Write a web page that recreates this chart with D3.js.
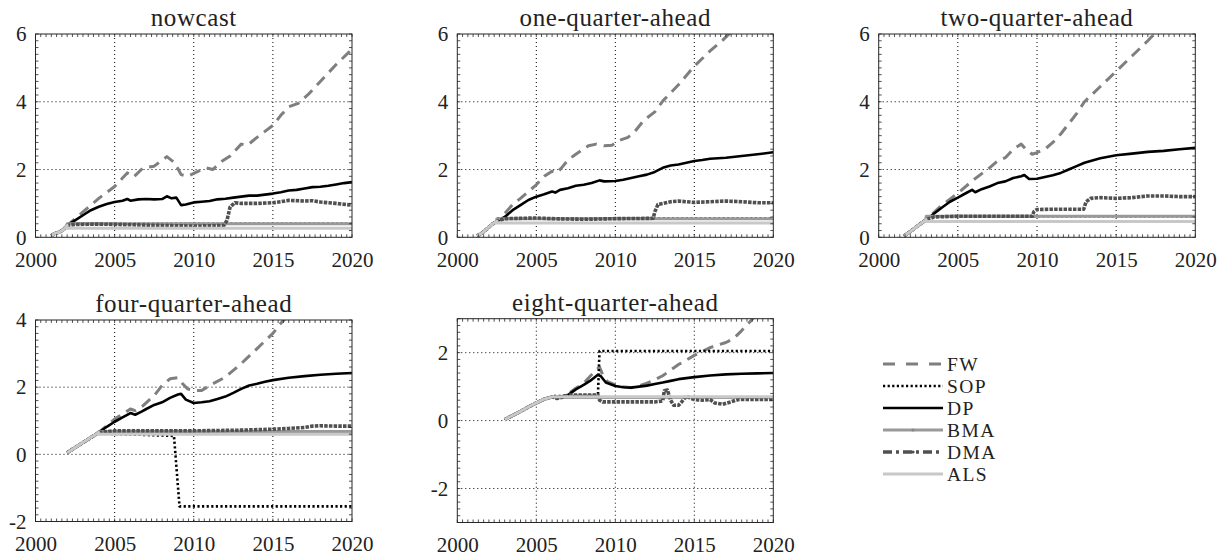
<!DOCTYPE html>
<html>
<head>
<meta charset="utf-8">
<script src="https://cdn.jsdelivr.net/npm/d3@7"></script>
<style>
  body { margin: 0; background: #fff; }
  svg text { font-family: "Liberation Serif", "DejaVu Serif", serif; fill: #222; }
</style>
</head>
<body>
<svg id="chart" width="1228" height="556"></svg>
<script>
// series names, in drawing order
var seriesNames = ["FW", "SOP", "DP", "BMA", "DMA", "ALS"];
var xTicks = [2000, 2005, 2010, 2015, 2020];

// ---- nowcast ----
var nowStart = [[2001.0,0.05],[2001.25,0.12],[2001.5,0.15],[2001.75,0.22],[2002.0,0.35]];
var nowFW = [[2002.25,0.45],[2003,0.75],[2004,1.15],[2005,1.5],[2005.5,1.75],[2005.8,1.9],[2006.2,1.78],[2006.8,2.05],[2007.5,2.1],[2008.3,2.38],[2008.8,2.2],[2009.2,1.85],[2009.6,1.8],[2010.3,1.95],[2010.8,2.05],[2011.2,2.0],[2011.8,2.25],[2012.3,2.4],[2013,2.75],[2013.4,2.72],[2014,2.95],[2015,3.3],[2015.5,3.6],[2016,3.85],[2016.6,3.95],[2017.2,4.2],[2018,4.6],[2019,5.1],[2020,5.55]];
var nowSOP = [[2002,0.4],[2020,0.4]];
var nowDP = [[2002.5,0.5],[2003,0.65],[2003.5,0.8],[2004,0.9],[2004.5,0.98],[2005,1.04],[2005.5,1.08],[2005.8,1.13],[2006,1.08],[2006.5,1.12],[2007,1.13],[2007.5,1.12],[2008,1.13],[2008.3,1.21],[2008.6,1.15],[2008.9,1.17],[2009.2,0.95],[2009.5,0.97],[2010,1.03],[2010.5,1.05],[2011,1.07],[2011.5,1.12],[2012,1.14],[2012.5,1.17],[2013,1.2],[2013.5,1.23],[2014,1.23],[2014.5,1.26],[2015,1.29],[2015.5,1.33],[2016,1.38],[2016.5,1.4],[2017,1.44],[2017.5,1.48],[2018,1.49],[2018.5,1.52],[2019,1.56],[2019.5,1.6],[2020,1.63]];
var nowBMA = [[2002,0.4],[2020,0.4]];
var nowDMA = [[2002.5,0.38],[2004,0.39],[2006,0.37],[2008,0.35],[2010,0.33],[2011.9,0.35],[2012.1,0.5],[2012.3,0.9],[2012.6,1.02],[2013,1.0],[2014,1.0],[2015,1.02],[2015.5,1.05],[2016,1.09],[2017,1.07],[2017.5,1.08],[2018,1.04],[2019,1.0],[2020,0.95]];
var nowALS = [[2002,0.27],[2020,0.27]];

// ---- one-quarter-ahead ----
var oneStart = [[2001.25,0.05],[2001.5,0.1],[2001.75,0.2],[2002,0.3],[2002.25,0.4],[2002.5,0.47]];
var oneFW = [[2003,0.7],[2003.5,0.97],[2004,1.15],[2005,1.55],[2005.5,1.8],[2006,1.95],[2006.3,1.9],[2006.6,2.05],[2007,2.28],[2007.5,2.45],[2008.3,2.7],[2008.8,2.75],[2009.3,2.7],[2009.8,2.72],[2010.2,2.85],[2010.8,2.95],[2011.2,3.1],[2011.8,3.45],[2012.5,3.7],[2013,4.02],[2014,4.5],[2015,5.05],[2016,5.5],[2016.8,5.82],[2017.3,6.05]];
var oneSOP = [[2002.5,0.55],[2020,0.55]];
var oneDP = [[2003,0.6],[2003.5,0.8],[2004,0.95],[2004.5,1.1],[2005,1.2],[2005.5,1.27],[2006,1.35],[2006.2,1.32],[2006.5,1.4],[2007,1.45],[2007.5,1.52],[2008,1.55],[2008.5,1.6],[2009,1.68],[2009.3,1.65],[2010,1.66],[2010.5,1.7],[2011,1.75],[2011.5,1.8],[2012,1.85],[2012.5,1.93],[2013,2.05],[2013.5,2.12],[2014,2.15],[2014.5,2.2],[2015,2.25],[2015.5,2.28],[2016,2.32],[2017,2.35],[2018,2.4],[2019,2.45],[2020,2.51]];
var oneBMA = [[2002.5,0.55],[2020,0.55]];
var oneDMA = [[2003,0.55],[2005,0.57],[2006,0.55],[2008,0.53],[2010,0.55],[2012.4,0.56],[2012.5,0.75],[2012.7,0.97],[2013.5,1.05],[2014,1.07],[2015,1.03],[2016,1.05],[2017,1.07],[2018,1.05],[2019,1.02],[2020,1.02]];
var oneALS = [[2002.5,0.42],[2020,0.42]];

// ---- two-quarter-ahead ----
var twoStart = [[2001.6,0.04],[2002,0.17],[2002.5,0.35],[2003,0.52]];
var twoFW = [[2004,0.95],[2005,1.3],[2006,1.7],[2007,2.05],[2007.5,2.25],[2008,2.35],[2008.5,2.6],[2009,2.75],[2009.3,2.6],[2009.7,2.45],[2010,2.5],[2010.5,2.6],[2011,2.8],[2011.5,3.05],[2012,3.35],[2012.5,3.65],[2013,4.0],[2014,4.45],[2015,4.9],[2016,5.35],[2017,5.8],[2017.5,6.05]];
var twoSOP = [[2003,0.62],[2020,0.62]];
var twoDP = [[2003.5,0.7],[2004,0.88],[2004.5,1.05],[2005,1.17],[2005.5,1.3],[2005.9,1.4],[2006.1,1.33],[2006.5,1.42],[2007,1.5],[2007.5,1.6],[2008,1.65],[2008.5,1.75],[2009,1.8],[2009.2,1.84],[2009.5,1.72],[2010,1.73],[2010.5,1.78],[2011,1.83],[2011.5,1.9],[2012,2.0],[2012.5,2.1],[2013,2.2],[2013.5,2.27],[2014,2.33],[2014.5,2.38],[2015,2.42],[2016,2.47],[2017,2.52],[2018,2.55],[2019,2.6],[2020,2.64]];
var twoBMA = [[2003,0.62],[2020,0.62]];
var twoDMA = [[2003.5,0.6],[2005,0.62],[2009.7,0.62],[2009.8,0.75],[2010,0.82],[2011,0.83],[2012.95,0.83],[2013.1,1.05],[2013.4,1.15],[2014,1.17],[2015,1.15],[2016,1.17],[2017,1.22],[2018,1.22],[2019,1.2],[2020,1.2]];
var twoALS = [[2003,0.47],[2020,0.47]];

// ---- four-quarter-ahead ----
var fourStart = [[2002,0.05],[2002.5,0.2],[2003,0.35],[2003.5,0.5],[2004,0.65]];
var fourFW = [[2004.5,0.85],[2005,1.05],[2005.5,1.2],[2006,1.35],[2006.3,1.3],[2006.8,1.45],[2007.5,1.75],[2008,2.05],[2008.5,2.25],[2009,2.28],[2009.3,2.1],[2009.6,1.95],[2010,1.9],[2010.5,1.9],[2011,2.05],[2012,2.3],[2013,2.7],[2014,3.15],[2015,3.6],[2015.4,3.85],[2015.8,4.05]];
var fourSOP = [[2004,0.62],[2008.75,0.55],[2009.1,-1.55],[2020,-1.55]];
var fourDP = [[2004.5,0.82],[2005,0.97],[2005.5,1.1],[2006,1.23],[2006.3,1.18],[2006.7,1.27],[2007,1.35],[2007.5,1.47],[2008,1.55],[2008.5,1.68],[2009,1.78],[2009.2,1.8],[2009.5,1.63],[2010,1.53],[2010.5,1.55],[2011,1.58],[2011.5,1.65],[2012,1.72],[2012.5,1.83],[2013,1.95],[2013.5,2.05],[2014,2.1],[2014.5,2.16],[2015,2.21],[2016,2.28],[2017,2.33],[2018,2.37],[2019,2.4],[2020,2.42]];
var fourBMA = [[2004,0.68],[2020,0.68]];
var fourDMA = [[2005,0.7],[2010,0.7],[2013,0.72],[2015,0.75],[2016,0.77],[2017,0.8],[2017.5,0.84],[2018,0.85],[2019,0.84],[2020,0.84]];
var fourALS = [[2004,0.6],[2020,0.6]];

// ---- eight-quarter-ahead ----
var eightStart = [[2003,0.03],[2003.5,0.15],[2004,0.27],[2004.5,0.4],[2005,0.52],[2005.5,0.63],[2006,0.7]];
var eightFW = [[2006.5,0.68],[2007,0.78],[2007.5,0.95],[2008,1.1],[2008.5,1.35],[2009,1.58],[2009.2,1.35],[2009.5,1.15],[2010,1.05],[2010.5,1.0],[2011,0.97],[2011.5,1.02],[2012,1.1],[2012.5,1.2],[2013,1.32],[2014,1.65],[2015,1.92],[2016,2.15],[2017,2.3],[2017.5,2.42],[2018,2.65],[2018.7,3.0],[2019,3.15]];
var eightSOP = [[2006,0.72],[2008.9,0.72],[2009.0,2.05],[2020,2.05]];
var eightDP = [[2006.5,0.7],[2007,0.75],[2007.5,0.92],[2008,1.05],[2008.5,1.2],[2008.9,1.35],[2009.1,1.3],[2009.4,1.12],[2010,1.02],[2010.5,0.98],[2011,0.97],[2011.5,1.0],[2012,1.03],[2012.5,1.08],[2013,1.12],[2013.5,1.17],[2014,1.22],[2015,1.28],[2016,1.33],[2017,1.36],[2018,1.38],[2019,1.39],[2020,1.4]];
var eightBMA = [[2006,0.68],[2020,0.68]];
var eightDMA = [[2006.3,0.65],[2006.6,0.68],[2007,0.75],[2008.9,0.75],[2009.0,0.6],[2009.2,0.55],[2012.5,0.55],[2013,0.58],[2013.1,0.88],[2013.3,0.9],[2013.5,0.6],[2013.7,0.45],[2014,0.45],[2014.2,0.55],[2014.5,0.72],[2014.8,0.65],[2015,0.62],[2015.5,0.6],[2016,0.62],[2016.3,0.52],[2016.8,0.48],[2017.3,0.55],[2017.8,0.62],[2020,0.62]];
var eightALS = [[2006,0.7],[2020,0.7]];

// line styles
var styles = {
  FW:  {color: "#7f7f7f", width: 3,   dash: "11,7"},
  SOP: {color: "#000000", width: 2.6, dash: "2.2,2.4"},
  DP:  {color: "#000000", width: 2.6, dash: null},
  BMA: {color: "#999999", width: 3,   dash: null},
  DMA: {color: "#505050", width: 3.6, dash: "3.5,1.2"},
  ALS: {color: "#c8c8c8", width: 3,   dash: null}
};

// panel layout
var panels = [
  {title: "nowcast", left: 35.5, right: 352, top: 34, bottom: 237.3, ydom: [0, 6], yticks: [0, 2, 4, 6],
   start: nowStart, series: [nowFW, nowSOP, nowDP, nowBMA, nowDMA, nowALS]},
  {title: "one-quarter-ahead", left: 457.3, right: 773.3, top: 34, bottom: 237.3, ydom: [0, 6], yticks: [0, 2, 4, 6],
   start: oneStart, series: [oneFW, oneSOP, oneDP, oneBMA, oneDMA, oneALS]},
  {title: "two-quarter-ahead", left: 878.7, right: 1195.3, top: 34, bottom: 237.3, ydom: [0, 6], yticks: [0, 2, 4, 6],
   start: twoStart, series: [twoFW, twoSOP, twoDP, twoBMA, twoDMA, twoALS]},
  {title: "four-quarter-ahead", left: 35.5, right: 352, top: 320, bottom: 521.5, ydom: [-2, 4], yticks: [-2, 0, 2, 4],
   start: fourStart, series: [fourFW, fourSOP, fourDP, fourBMA, fourDMA, fourALS]},
  {title: "eight-quarter-ahead", left: 457.3, right: 773.3, top: 318.7, bottom: 522.5, ydom: [-3, 3], yticks: [-2, 0, 2],
   start: eightStart, series: [eightFW, eightSOP, eightDP, eightBMA, eightDMA, eightALS]}
];

var svg = d3.select("#chart");

panels.forEach(function (p, pi) {
  var x = d3.scaleLinear().domain([2000, 2020]).range([p.left, p.right]);
  var y = d3.scaleLinear().domain(p.ydom).range([p.bottom, p.top]);
  var g = svg.append("g").attr("class", "panel");

  g.append("clipPath").attr("id", "clip" + pi)
    .append("rect")
    .attr("x", p.left).attr("y", p.top)
    .attr("width", p.right - p.left).attr("height", p.bottom - p.top);

  // dotted grid
  g.selectAll(".vgrid")
    .data(xTicks.slice(1, -1))
    .enter().append("line")
    .attr("x1", x).attr("x2", x)
    .attr("y1", p.top).attr("y2", p.bottom)
    .attr("stroke", "#000").attr("stroke-width", 1)
    .attr("stroke-dasharray", "1,3");
  g.selectAll(".hgrid")
    .data(p.yticks.filter(function (v) { return v > p.ydom[0] && v < p.ydom[1]; }))
    .enter().append("line")
    .attr("x1", p.left).attr("x2", p.right)
    .attr("y1", y).attr("y2", y)
    .attr("stroke", "#000").attr("stroke-width", 1)
    .attr("stroke-dasharray", "1,3");

  // lines
  var line = d3.line().x(function (d) { return x(d[0]); }).y(function (d) { return y(d[1]); });
  var lg = g.append("g").attr("clip-path", "url(#clip" + pi + ")");
  p.series.forEach(function (s, si) {
    var st = styles[seriesNames[si]];
    lg.append("path")
      .datum(p.start.concat(s))
      .attr("d", line)
      .attr("fill", "none")
      .attr("stroke", st.color)
      .attr("stroke-width", st.width)
      .attr("stroke-linejoin", "round")
      .attr("stroke-dasharray", st.dash);
  });

  // minor ticks (inward, all four sides)
  var mx = d3.range(0, 61).map(function (i) { return 2000 + i / 3; });
  var my = d3.range(0, 31).map(function (i) { return p.ydom[0] + i * 0.2; });
  var tk = g.append("g").attr("stroke", "#262626").attr("stroke-width", 0.8);
  mx.forEach(function (v) {
    tk.append("line").attr("x1", x(v)).attr("x2", x(v)).attr("y1", p.bottom).attr("y2", p.bottom - 3);
    tk.append("line").attr("x1", x(v)).attr("x2", x(v)).attr("y1", p.top).attr("y2", p.top + 3);
  });
  my.forEach(function (v) {
    tk.append("line").attr("x1", p.left).attr("x2", p.left + 3).attr("y1", y(v)).attr("y2", y(v));
    tk.append("line").attr("x1", p.right).attr("x2", p.right - 3).attr("y1", y(v)).attr("y2", y(v));
  });

  // box
  g.append("rect")
    .attr("x", p.left).attr("y", p.top)
    .attr("width", p.right - p.left).attr("height", p.bottom - p.top)
    .attr("fill", "none").attr("stroke", "#262626").attr("stroke-width", 1);

  // axes labels
  var xAxis = d3.axisBottom(x).tickValues(xTicks).tickSize(0).tickPadding(15)
    .tickFormat(function (d) { return String(d); });
  var yAxis = d3.axisLeft(y).tickValues(p.yticks).tickSize(0).tickPadding(9)
    .tickFormat(function (d) { return String(d); });

  var gx = g.append("g").attr("transform", "translate(0," + p.bottom + ")").call(xAxis);
  gx.attr("font-family", null);
  gx.select(".domain").remove();
  gx.selectAll("text").style("font-size", "21px").attr("fill", "#222")
    .style("font-family", "'Liberation Serif', serif");

  var gy = g.append("g").attr("transform", "translate(" + p.left + ",0)").call(yAxis);
  gy.attr("font-family", null);
  gy.select(".domain").remove();
  gy.selectAll("text").style("font-size", "21px").attr("fill", "#222")
    .style("font-family", "'Liberation Serif', serif");

  // title
  g.append("text")
    .attr("x", (p.left + p.right) / 2)
    .attr("y", p.top - 8)
    .attr("text-anchor", "middle")
    .style("font-size", "25px")
    .style("letter-spacing", "0.6px")
    .text(p.title);
});

// legend
var legendY = d3.scalePoint().domain(seriesNames).range([364, 474]);
var leg = svg.append("g").attr("class", "legend");
seriesNames.forEach(function (name) {
  var st = styles[name];
  var yy = legendY(name);
  var ldash = st.dash;
  if (name === "FW") ldash = "12,11";
  if (name === "DMA") ldash = "9,4,3,4";
  leg.append("line")
    .attr("x1", 883).attr("x2", 943).attr("y1", yy).attr("y2", yy)
    .attr("stroke", st.color).attr("stroke-width", st.width)
    .attr("stroke-dasharray", ldash);
  if (name === "BMA" || name === "DMA") {
    leg.append("circle").attr("cx", 913).attr("cy", yy).attr("r", 1.6)
      .attr("fill", name === "BMA" ? "#888" : "#505050");
  }
  leg.append("text")
    .attr("x", 947).attr("y", yy + 7)
    .style("font-size", "19.5px")
    .style("letter-spacing", "1.4px")
    .text(name);
});
</script>
</body>
</html>
